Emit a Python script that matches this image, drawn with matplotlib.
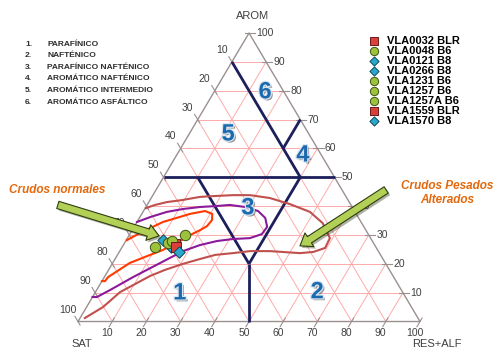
import numpy as np
import matplotlib
matplotlib.use("Agg")
import matplotlib.pyplot as plt
import matplotlib.patheffects as pe

# Diagrama ternario SAT / AROM / RES+ALF con clasificacion de crudos.

CLASS_NAMES = [
    "PARAFÍNICO",
    "NAFTÉNICO",
    "PARAFÍNICO NAFTÉNICO",
    "AROMÁTICO NAFTÉNICO",
    "AROMÁTICO INTERMEDIO",
    "AROMÁTICO ASFÁLTICO",
]

# muestras (porcentaje AROM y RES+ALF, SAT = resto)
SAMPLE_NAMES = ["VLA0032 BLR", "VLA0048 B6", "VLA0121 B8", "VLA0266 B8", "VLA1231 B6",
                "VLA1257 B6", "VLA1257A B6", "VLA1559 BLR", "VLA1570 B8"]
SAMPLE_GROUP = ["BLR", "B6", "B8", "B8", "B6", "B6", "B6", "BLR", "B8"]
SAMPLE_AROM = [26.9, 25.8, 28.2, 25.8, 27.2, 27.9, 30.0, 25.8, 24.1]
SAMPLE_RES = [14.9, 9.6, 10.8, 14.3, 12.7, 13.5, 16.3, 15.8, 17.5]

# limites de las zonas 1-6 (pares de puntos AROM / RES)
BOUNDARY_AROM = [[50, 50], [90, 50], [70, 60], [50, 20], [50, 20], [20, 0]]
BOUNDARY_RES = [[0, 50], [0, 40], [30, 30], [10, 40], [40, 40], [40, 50]]

REGION_LABELS = ["1", "2", "3", "4", "5", "6"]
REGION_AROM = [9.9, 10.3, 39.4, 57.7, 65.0, 79.6]
REGION_RES = [24.8, 64.8, 30.0, 36.9, 11.4, 14.9]

# curvas de envolvente
RED_AROM = [14.0, 14.0, 15.4, 20.3, 22.7, 24.8, 27.9, 30.0, 31.7, 33.1, 35.2, 37.3, 38.3,
            37.3, 34.5, 30.7, 28.2]
RED_RES = [0.0, 0.9, 1.1, 5.0, 8.9, 12.4, 15.9, 17.8, 19.9, 21.2, 21.6, 20.6, 18.0,
           14.1, 7.6, 2.8, 0.2]

PURPLE_AROM = [8.5, 8.5, 10.9, 15.4, 20.3, 24.4, 26.5, 27.9, 28.6, 28.9, 30.3, 32.8, 35.9,
               38.3, 39.7, 40.4, 40.0, 39.7, 39.0, 38.0, 36.2, 34.5]
PURPLE_RES = [0.0, 1.3, 3.9, 8.4, 13.9, 18.5, 22.4, 26.7, 31.0, 35.8, 38.6, 38.9, 36.8,
              33.5, 29.0, 24.2, 20.1, 15.9, 11.2, 7.0, 3.0, 0.0]

BROWN_AROM = [1.2, 5.0, 10.2, 13.0, 15.8, 17.9, 19.9, 21.7, 23.1, 23.7, 24.4, 24.4, 24.1,
              23.7, 24.1, 25.5, 28.9, 34.1, 38.0, 40.7, 42.8, 43.8, 43.8, 43.5, 43.2,
              42.1, 41.4, 40.4, 39.3]
BROWN_RES = [1.4, 4.8, 7.2, 10.2, 13.2, 16.5, 20.5, 24.9, 28.6, 33.4, 38.1, 43.9, 47.9,
             53.0, 56.7, 59.5, 59.2, 54.5, 48.8, 41.6, 34.7, 28.4, 23.4, 18.3, 14.1,
             9.4, 5.3, 2.3, 0.2]

TICKS = list(range(10, 101, 10))

GRID_COLOR = "#ffaaaa"
EDGE_COLOR = "#9a9090"
NAVY = "#1c1f5c"
TEXT_GRAY = "#404040"
ORANGE = "#e3690c"

GROUP_STYLE = {
    "BLR": dict(marker="s", color="#d9403a", edgecolor="#6a1a18", size=46),
    "B6": dict(marker="o", color="#9cc23c", edgecolor="#3d5214", size=56),
    "B8": dict(marker="D", color="#2aa8cc", edgecolor="#10485a", size=34),
}


def tern(arom, res):
    a = np.asarray(arom, dtype=float)
    r = np.asarray(res, dtype=float)
    return r + a / 2.0, a * np.sqrt(3) / 2.0


def draw_grid(ax):
    for k in TICKS[:-1]:
        for arom, res in (([k, k], [0, 100 - k]), ([0, 100 - k], [k, k]), ([0, 100 - k], [100 - k, 0])):
            x, y = tern(arom, res)
            ax.plot(x, y, color=GRID_COLOR, linewidth=0.7, zorder=1)
    x, y = tern([0, 100, 0, 0], [0, 0, 100, 0])
    ax.plot(x, y, color=EDGE_COLOR, linewidth=1.0, zorder=2)

    h = np.sqrt(3) / 2
    for k in TICKS:
        # AROM (lado derecho)
        x, y = tern(k, 100 - k)
        ax.plot([x - 1.2, x + 1.8], [y, y], color=EDGE_COLOR, linewidth=0.8, zorder=2)
        ax.text(x + 2.2, y, str(k), fontsize=7.5, color=TEXT_GRAY, ha="left", va="center")
        # SAT (lado izquierdo)
        x, y = tern(100 - k, 0)
        ax.plot([x + 0.6, x - 0.9], [y - 1.2 * h, y + 1.8 * h], color=EDGE_COLOR, linewidth=0.8, zorder=2)
        ax.text(x - 3.0, y + 3.6, str(k), fontsize=7.5, color=TEXT_GRAY, ha="center", va="center")
        # RES+ALF (abajo)
        x, y = tern(0, k)
        ax.plot([x + 0.6, x - 0.9], [y + 1.2 * h, y - 1.8 * h], color=EDGE_COLOR, linewidth=0.8, zorder=2)
        ax.text(x - 1.5, y - 3.4, str(k), fontsize=7.5, color=TEXT_GRAY, ha="center", va="center")

    ax.text(51, 91.8, "AROM", fontsize=8, color=TEXT_GRAY, ha="center", va="center")
    ax.text(1.2, -6.7, "SAT", fontsize=8, color=TEXT_GRAY, ha="center", va="center")
    ax.text(105.0, -6.7, "RES+ALF", fontsize=8, color=TEXT_GRAY, ha="center", va="center")


def main():
    plt.rcParams["font.family"] = ["Liberation Sans", "DejaVu Sans"]
    fig = plt.figure(figsize=(4.97, 3.49), dpi=100)
    ax = fig.add_axes([0, 0, 1, 1])
    ax.set_xlim(-22.81, 122.51)
    ax.set_ylim(-8.25, 96.51)
    ax.axis("off")

    draw_grid(ax)

    for arom, res in zip(BOUNDARY_AROM, BOUNDARY_RES):
        x, y = tern(arom, res)
        ax.plot(x, y, color=NAVY, linewidth=2.0, solid_capstyle="butt", zorder=3)

    for arom, res, color in ((BROWN_AROM, BROWN_RES, "#c0504d"),
                             (PURPLE_AROM, PURPLE_RES, "#8b1a9a"),
                             (RED_AROM, RED_RES, "#ff3a00")):
        x, y = tern(arom, res)
        ax.plot(x, y, color=color, linewidth=1.5, solid_joinstyle="round", zorder=4)

    shadow = [pe.withSimplePatchShadow(offset=(1.4, -1.4), shadow_rgbFace="#404040", alpha=0.55),
              pe.withStroke(linewidth=1.8, foreground="#d8e6f2")]
    for label, arom, res in zip(REGION_LABELS, REGION_AROM, REGION_RES):
        x, y = tern(arom, res)
        ax.text(x, y, label, fontsize=17, fontweight="bold", color="#1d69ae",
                ha="center", va="center", zorder=5, path_effects=shadow)

    for name, group, arom, res in zip(SAMPLE_NAMES, SAMPLE_GROUP, SAMPLE_AROM, SAMPLE_RES):
        st = GROUP_STYLE[group]
        x, y = tern(arom, res)
        ax.scatter([x], [y], s=st["size"], marker=st["marker"],
                   color=st["color"], edgecolor=st["edgecolor"], linewidth=0.7,
                   label=name, zorder=6)

    arrow_props = dict(arrowstyle="simple,head_length=0.9,head_width=1.3,tail_width=0.6",
                       mutation_scale=9, fc="#b2d055", ec="#2f3d12", lw=0.8,
                       shrinkA=0, shrinkB=0,
                       path_effects=[pe.withSimplePatchShadow(offset=(1.5, -1.5), alpha=0.4)])
    ax.annotate("", xy=(23.7, 25.7), xytext=(-5.9, 35.0), arrowprops=arrow_props, zorder=7)
    ax.annotate("", xy=(64.9, 22.7), xytext=(90.1, 39.5), arrowprops=arrow_props, zorder=7)

    fig.text(57 / 497, 1 - 190 / 349, "Crudos normales", fontsize=8.5, fontweight="bold",
             fontstyle="italic", color=ORANGE, ha="center", va="center")
    fig.text(447 / 497, 1 - 193 / 349, "Crudos Pesados\nAlterados", fontsize=8.5,
             fontweight="bold", fontstyle="italic", color=ORANGE, ha="center", va="center",
             linespacing=1.15)

    for i, name in enumerate(CLASS_NAMES):
        y = 1 - (44 + i * 11.6) / 349
        fig.text(25 / 497, y, f"{i + 1}.", fontsize=6, fontweight="bold", color="#2e2e2e",
                 va="center")
        fig.text(47 / 497, y, name, fontsize=6, fontweight="bold", color="#2e2e2e",
                 va="center")

    ax.legend(loc="upper left", bbox_to_anchor=(369 / 497, 1 - 36 / 349), frameon=False,
              prop=dict(family="Liberation Sans", weight="bold", size=8),
              handletextpad=0.7, labelspacing=0.0, borderpad=0, borderaxespad=0,
              handlelength=0.9, scatterpoints=1, markerscale=0.8)

    fig.savefig("out.png", dpi=100)
    plt.close(fig)
    return 0


if __name__ == "__main__":
    raise SystemExit(main())
